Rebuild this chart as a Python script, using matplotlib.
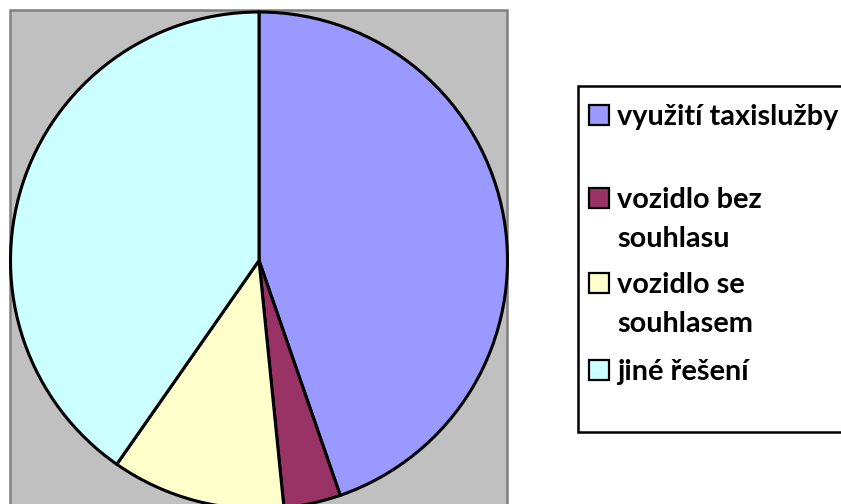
#!/usr/bin/env python3

import matplotlib
matplotlib.use('Agg')
import matplotlib.pyplot as plt
from matplotlib.patches import Rectangle

# data (share in %)
labels = ['využití taxislužby', 'vozidlo bez\nsouhlasu', 'vozidlo se\nsouhlasem', 'jiné řešení']
values = [44.7, 3.7, 11.3, 40.3]
colors = ['#9999FF', '#993366', '#FFFFCC', '#CCFFFF']

W, H = 841, 504
fig = plt.figure(figsize=(W / 100, H / 100), dpi=100)
ax = fig.add_axes([0, 0, 1, 1])

# grey plot area (runs off the bottom edge like the original)
ax.add_patch(Rectangle((10, -10), 497, H, facecolor='#C0C0C0',
                       edgecolor='#808080', linewidth=1.8, zorder=0))

ax.pie(values, colors=colors, startangle=90, counterclock=False,
       center=(259, H - 260.5), radius=248.5, frame=True,
       wedgeprops=dict(edgecolor='black', linewidth=2.2))

ax.set_xlim(0, W)
ax.set_ylim(0, H)
ax.axis('off')

# legend box, drawn by hand so markers sit on the first text line
ax.add_patch(Rectangle((578, H - 432), 300, 346, facecolor='white',
                       edgecolor='black', linewidth=1.8, zorder=2, clip_on=False))

baselines = [125, 208, 293, 380]
line_gap = 39
for lab, col, b in zip(labels, colors, baselines):
    ax.add_patch(Rectangle((589, H - b), 20, 20, facecolor=col,
                           edgecolor='black', linewidth=1.6, zorder=3))
    for i, part in enumerate(lab.split('\n')):
        ax.text(617, H - b - i * line_gap, part, fontsize=20.8, fontweight='bold',
                family='Lato', va='baseline', ha='left', zorder=3)

plt.savefig('out.png', dpi=100)
plt.close()
